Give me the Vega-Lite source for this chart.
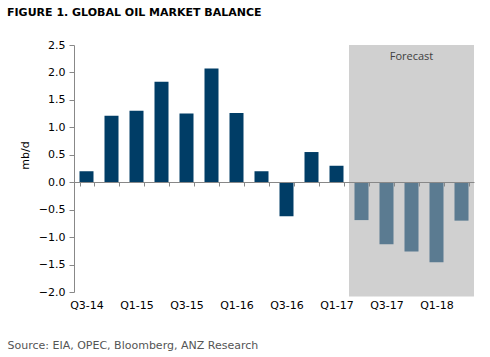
{
  "$schema": "https://vega.github.io/schema/vega-lite/v6.json",
  "width": 400,
  "height": 247,
  "autosize": {"type": "none"},
  "padding": {"left": 74, "top": 45, "right": 16, "bottom": 65},
  "config": {
    "view": {"stroke": null},
    "font": "DejaVu Sans",
    "axisY": {
      "values": [-2, -1.5, -1, -0.5, 0, 0.5, 1, 1.5, 2, 2.5],
      "format": ".1f",
      "grid": false,
      "labelOverlap": false,
      "domainColor": "#888888",
      "tickColor": "#888888",
      "tickSize": 5,
      "labelPadding": 4,
      "labelFontSize": 11,
      "labelColor": "#000000",
      "titleFontSize": 11,
      "titleFontWeight": "normal",
      "titleColor": "#000000",
      "titleX": -49,
      "titleY": 110,
      "titleBaseline": "middle"
    }
  },
  "title": {
    "text": "FIGURE 1. GLOBAL OIL MARKET BALANCE",
    "anchor": "start",
    "frame": "group",
    "dx": -67,
    "offset": 21,
    "fontSize": 11,
    "font": "DejaVu Sans",
    "fontWeight": "bold",
    "color": "#000000"
  },
  "data": {
    "values": [
      {"q": "Q3-14", "v": 0.2, "type": "Actual", "note": ""},
      {"q": "Q4-14", "v": 1.21, "type": "Actual", "note": ""},
      {"q": "Q1-15", "v": 1.3, "type": "Actual", "note": ""},
      {"q": "Q2-15", "v": 1.83, "type": "Actual", "note": ""},
      {"q": "Q3-15", "v": 1.25, "type": "Actual", "note": ""},
      {"q": "Q4-15", "v": 2.07, "type": "Actual", "note": ""},
      {"q": "Q1-16", "v": 1.26, "type": "Actual", "note": ""},
      {"q": "Q2-16", "v": 0.2, "type": "Actual", "note": ""},
      {"q": "Q3-16", "v": -0.62, "type": "Actual", "note": ""},
      {"q": "Q4-16", "v": 0.55, "type": "Actual", "note": ""},
      {"q": "Q1-17", "v": 0.3, "type": "Actual", "note": ""},
      {"q": "Q2-17", "v": -0.69, "type": "Forecast", "note": ""},
      {"q": "Q3-17", "v": -1.13, "type": "Forecast", "note": ""},
      {"q": "Q4-17", "v": -1.26, "type": "Forecast", "note": "Forecast"},
      {"q": "Q1-18", "v": -1.46, "type": "Forecast", "note": ""},
      {"q": "Q2-18", "v": -0.7, "type": "Forecast", "note": ""}
    ]
  },
  "encoding": {
    "x": {
      "field": "q",
      "type": "ordinal",
      "sort": null,
      "scale": {"paddingInner": 0.44, "paddingOuter": 0.22},
      "axis": {
        "orient": "bottom",
        "offset": -110,
        "tickBand": "extent",
        "tickSize": 4,
        "labelPadding": 113,
        "labelAngle": 0,
        "labelExpr": "test(/Q[13]/, datum.label) ? datum.label : ''",
        "labelFontSize": 11,
        "labelColor": "#000000",
        "domainColor": "#888888",
        "tickColor": "#888888",
        "zindex": 1,
        "title": "Source: EIA, OPEC, Bloomberg, ANZ Research",
        "titleX": -67,
        "titleY": 163,
        "titleAlign": "left",
        "titleAnchor": "start",
        "titleBaseline": "middle",
        "titleFontWeight": "normal",
        "titleFontSize": 11,
        "titleColor": "#555555"
      }
    }
  },
  "layer": [
    {
      "mark": {"type": "bar", "color": "#d0d0d0", "width": {"band": 1.7857}},
      "encoding": {
        "y": {
          "datum": 2.5,
          "type": "quantitative",
          "scale": {"domain": [-2, 2.5], "nice": false, "zero": false},
          "title": "mb/d"
        },
        "y2": {"datum": -2.08},
        "opacity": {"condition": {"test": "datum.type === 'Forecast'", "value": 1}, "value": 0}
      }
    },
    {
      "mark": {"type": "bar"},
      "encoding": {
        "y": {
          "field": "v",
          "type": "quantitative",
          "scale": {"domain": [-2, 2.5], "nice": false, "zero": false},
          "title": "mb/d"
        },
        "color": {
          "field": "type",
          "type": "nominal",
          "scale": {"domain": ["Actual", "Forecast"], "range": ["#003d66", "#5b7b91"]},
          "legend": null
        }
      }
    },
    {
      "mark": {"type": "text", "font": "Open Sans", "fontSize": 11, "color": "#404040", "baseline": "middle"},
      "encoding": {
        "y": {"datum": 2.28, "type": "quantitative", "title": "mb/d"},
        "text": {"field": "note"}
      }
    }
  ]
}
